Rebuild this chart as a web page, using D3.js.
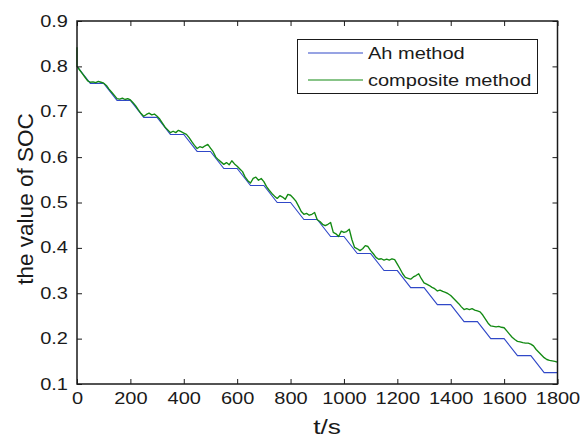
<!DOCTYPE html>
<html>
<head>
<meta charset="utf-8">
<script src="https://cdn.jsdelivr.net/npm/d3@7"></script>
<style>
  html, body { margin: 0; padding: 0; background: #fff; }
  svg { display: block; font-family: "Liberation Sans", Arial, Helvetica, sans-serif; }
</style>
</head>
<body>
<svg id="chart" width="581" height="438"></svg>
<script>
// ---- Data ----
const xTicks = [0, 200, 400, 600, 800, 1000, 1200, 1400, 1600, 1800];
const yTicks = [0.1, 0.2, 0.3, 0.4, 0.5, 0.6, 0.7, 0.8, 0.9];
const seriesNames = ["Ah method", "composite method"];

// Ah method: staircase corner points
const ahTime = [0, 50, 100, 150, 200, 250, 300, 350, 400, 450, 500, 550, 600, 650, 700, 750, 800, 850, 900,
  950, 1000, 1050, 1100, 1150, 1200, 1250, 1300, 1350, 1400, 1450, 1500, 1550, 1600, 1650, 1700, 1750, 1800];
const ahSOC = [0.800, 0.7625, 0.7625, 0.725, 0.725, 0.6875, 0.6875, 0.650, 0.650, 0.6125, 0.6125, 0.575, 0.575,
  0.5375, 0.5375, 0.500, 0.500, 0.4625, 0.4625, 0.425, 0.425, 0.3875, 0.3875, 0.350, 0.350, 0.3125, 0.3125,
  0.275, 0.275, 0.2375, 0.2375, 0.200, 0.200, 0.1625, 0.1625, 0.125, 0.125];

// composite method: sampled every 10 s (plus initial spike)
const compTime = [0, 0, 10, 20, 30, 40, 50, 60, 70, 80, 90,
  100, 110, 120, 130, 140, 150, 160, 170, 180, 190,
  200, 210, 220, 230, 240, 250, 260, 270, 280, 290,
  300, 310, 320, 330, 340, 350, 360, 370, 380, 390,
  400, 410, 420, 430, 440, 450, 460, 470, 480, 490,
  500, 510, 520, 530, 540, 550, 560, 570, 580, 590,
  600, 610, 620, 630, 640, 650, 660, 670, 680, 690,
  700, 710, 720, 730, 740, 750, 760, 770, 780, 790,
  800, 810, 820, 830, 840, 850, 860, 870, 880, 890,
  900, 910, 920, 930, 940, 950, 960, 970, 980, 990,
  1000, 1010, 1020, 1030, 1040, 1050, 1060, 1070, 1080, 1090,
  1100, 1110, 1120, 1130, 1140, 1150, 1160, 1170, 1180, 1190,
  1200, 1210, 1220, 1230, 1240, 1250, 1260, 1270, 1280, 1290,
  1300, 1310, 1320, 1330, 1340, 1350, 1360, 1370, 1380, 1390,
  1400, 1410, 1420, 1430, 1440, 1450, 1460, 1470, 1480, 1490,
  1500, 1510, 1520, 1530, 1540, 1550, 1560, 1570, 1580, 1590,
  1600, 1610, 1620, 1630, 1640, 1650, 1660, 1670, 1680, 1690,
  1700, 1710, 1720, 1730, 1740, 1750, 1760, 1770, 1780, 1790, 1800];
const compSOC = [0.842, 0.800, 0.792, 0.784, 0.776, 0.768, 0.765, 0.766, 0.764, 0.767, 0.765,
  0.763, 0.758, 0.750, 0.743, 0.736, 0.729, 0.728, 0.730, 0.727, 0.729,
  0.726, 0.720, 0.713, 0.704, 0.696, 0.690, 0.694, 0.697, 0.693, 0.695,
  0.690, 0.684, 0.675, 0.666, 0.660, 0.654, 0.657, 0.654, 0.659, 0.656,
  0.653, 0.650, 0.643, 0.634, 0.626, 0.619, 0.623, 0.621, 0.625, 0.628,
  0.620, 0.612, 0.600, 0.594, 0.589, 0.584, 0.588, 0.583, 0.592, 0.585,
  0.580, 0.574, 0.568, 0.556, 0.548, 0.543, 0.553, 0.556, 0.549, 0.553,
  0.546, 0.535, 0.527, 0.520, 0.514, 0.509, 0.515, 0.512, 0.507, 0.518,
  0.516, 0.510, 0.503, 0.492, 0.480, 0.474, 0.476, 0.472, 0.474, 0.478,
  0.462, 0.458, 0.452, 0.449, 0.452, 0.456, 0.434, 0.431, 0.425, 0.437,
  0.434, 0.436, 0.441, 0.418, 0.401, 0.398, 0.394, 0.398, 0.405, 0.403,
  0.394, 0.387, 0.379, 0.375, 0.376, 0.373, 0.375, 0.373, 0.376, 0.374,
  0.364, 0.354, 0.343, 0.335, 0.333, 0.331, 0.336, 0.339, 0.343, 0.332,
  0.323, 0.320, 0.317, 0.313, 0.310, 0.305, 0.307, 0.304, 0.302, 0.299,
  0.295, 0.289, 0.283, 0.277, 0.270, 0.264, 0.266, 0.264, 0.266, 0.263,
  0.261, 0.259, 0.252, 0.243, 0.234, 0.228, 0.227, 0.226, 0.227, 0.225,
  0.224, 0.217, 0.210, 0.203, 0.198, 0.194, 0.193, 0.191, 0.190, 0.190,
  0.188, 0.184, 0.176, 0.170, 0.164, 0.158, 0.154, 0.152, 0.151, 0.150, 0.148];

// ---- Layout ----
const plot = { left: 77, right: 557.5, top: 21, bottom: 384 };
const colors = ["#3048c8", "#138a13"];
const stretchX = 1.25;   // reference text is horizontally stretched

const svg = d3.select("#chart");
const x = d3.scaleLinear().domain([0, 1800]).range([plot.left, plot.right]);
const y = d3.scaleLinear().domain([0.1, 0.9]).range([plot.bottom, plot.top]);

const line = d3.line().x(d => x(d[0])).y(d => y(d[1]));

const ahData = ahTime.map((t, i) => [t, ahSOC[i]]);
const compData = compTime.map((t, i) => [t, compSOC[i]]);

svg.append("path").datum(ahData).attr("d", line)
  .attr("fill", "none").attr("stroke", colors[0]).attr("stroke-width", 1.1);
svg.append("path").datum(compData).attr("d", line)
  .attr("fill", "none").attr("stroke", colors[1]).attr("stroke-width", 1.35)
  .attr("stroke-linejoin", "round");

// ---- Axes (MATLAB style box with inward ticks) ----
const tickLen = 5;
const fontSize = 16;
const axisColor = "#1a1a1a";

const bottomAxis = d3.axisBottom(x).tickValues(xTicks).tickSizeInner(-tickLen).tickSizeOuter(0).tickPadding(9).tickFormat(d3.format("d"));
const topAxis = d3.axisTop(x).tickValues(xTicks).tickSizeInner(-tickLen).tickSizeOuter(0).tickFormat("");
const leftAxis = d3.axisLeft(y).tickValues(yTicks).tickSizeInner(-tickLen).tickSizeOuter(0).tickPadding(9).tickFormat(d3.format(".1f"));
const rightAxis = d3.axisRight(y).tickValues(yTicks).tickSizeInner(-tickLen).tickSizeOuter(0).tickFormat("");

function stretch(sel) {
  sel.each(function () {
    const t = d3.select(this);
    const tx = +t.attr("x") || 0, ty = +t.attr("y") || 0;
    t.attr("x", 0).attr("y", 0).attr("transform", `translate(${tx},${ty}) scale(${stretchX},1)`);
  });
}

function styleAxis(g) {
  g.select(".domain").remove();
  g.selectAll(".tick line").attr("stroke", axisColor).attr("stroke-width", 1);
  g.selectAll(".tick text").attr("fill", axisColor).attr("font-size", fontSize)
    .attr("font-family", "'Liberation Sans', Arial, sans-serif").call(stretch);
}

svg.append("g").attr("transform", `translate(0,${plot.bottom})`).call(bottomAxis).call(styleAxis);
svg.append("g").attr("transform", `translate(0,${plot.top})`).call(topAxis).call(styleAxis);
svg.append("g").attr("transform", `translate(${plot.left},0)`).call(leftAxis).call(styleAxis);
svg.append("g").attr("transform", `translate(${plot.right},0)`).call(rightAxis).call(styleAxis);

svg.append("rect")
  .attr("x", plot.left).attr("y", plot.top)
  .attr("width", plot.right - plot.left).attr("height", plot.bottom - plot.top)
  .attr("fill", "none").attr("stroke", axisColor).attr("stroke-width", 1.5);

// axis labels
svg.append("text").attr("transform", `translate(327,434) scale(${stretchX},1)`)
  .attr("text-anchor", "middle").attr("font-size", 21).attr("fill", axisColor).text("t/s");
svg.append("text").attr("transform", `translate(33,199) rotate(-90)`)
  .attr("text-anchor", "middle").attr("font-size", 22.5).attr("fill", axisColor).text("the value of SOC");

// ---- Legend ----
const lg = svg.append("g");
lg.append("rect").attr("x", 297.5).attr("y", 39.5).attr("width", 240).attr("height", 54)
  .attr("fill", "#fff").attr("stroke", axisColor).attr("stroke-width", 1);
seriesNames.forEach((name, i) => {
  const yy = 53 + i * 27;
  lg.append("line").attr("x1", 308).attr("x2", 363).attr("y1", yy).attr("y2", yy)
    .attr("stroke", colors[i]).attr("stroke-width", 1.1);
  lg.append("text").attr("transform", `translate(368,${yy + 5.5}) scale(${stretchX},1)`)
    .attr("font-size", 16).attr("fill", axisColor).text(name);
});
</script>
</body>
</html>
